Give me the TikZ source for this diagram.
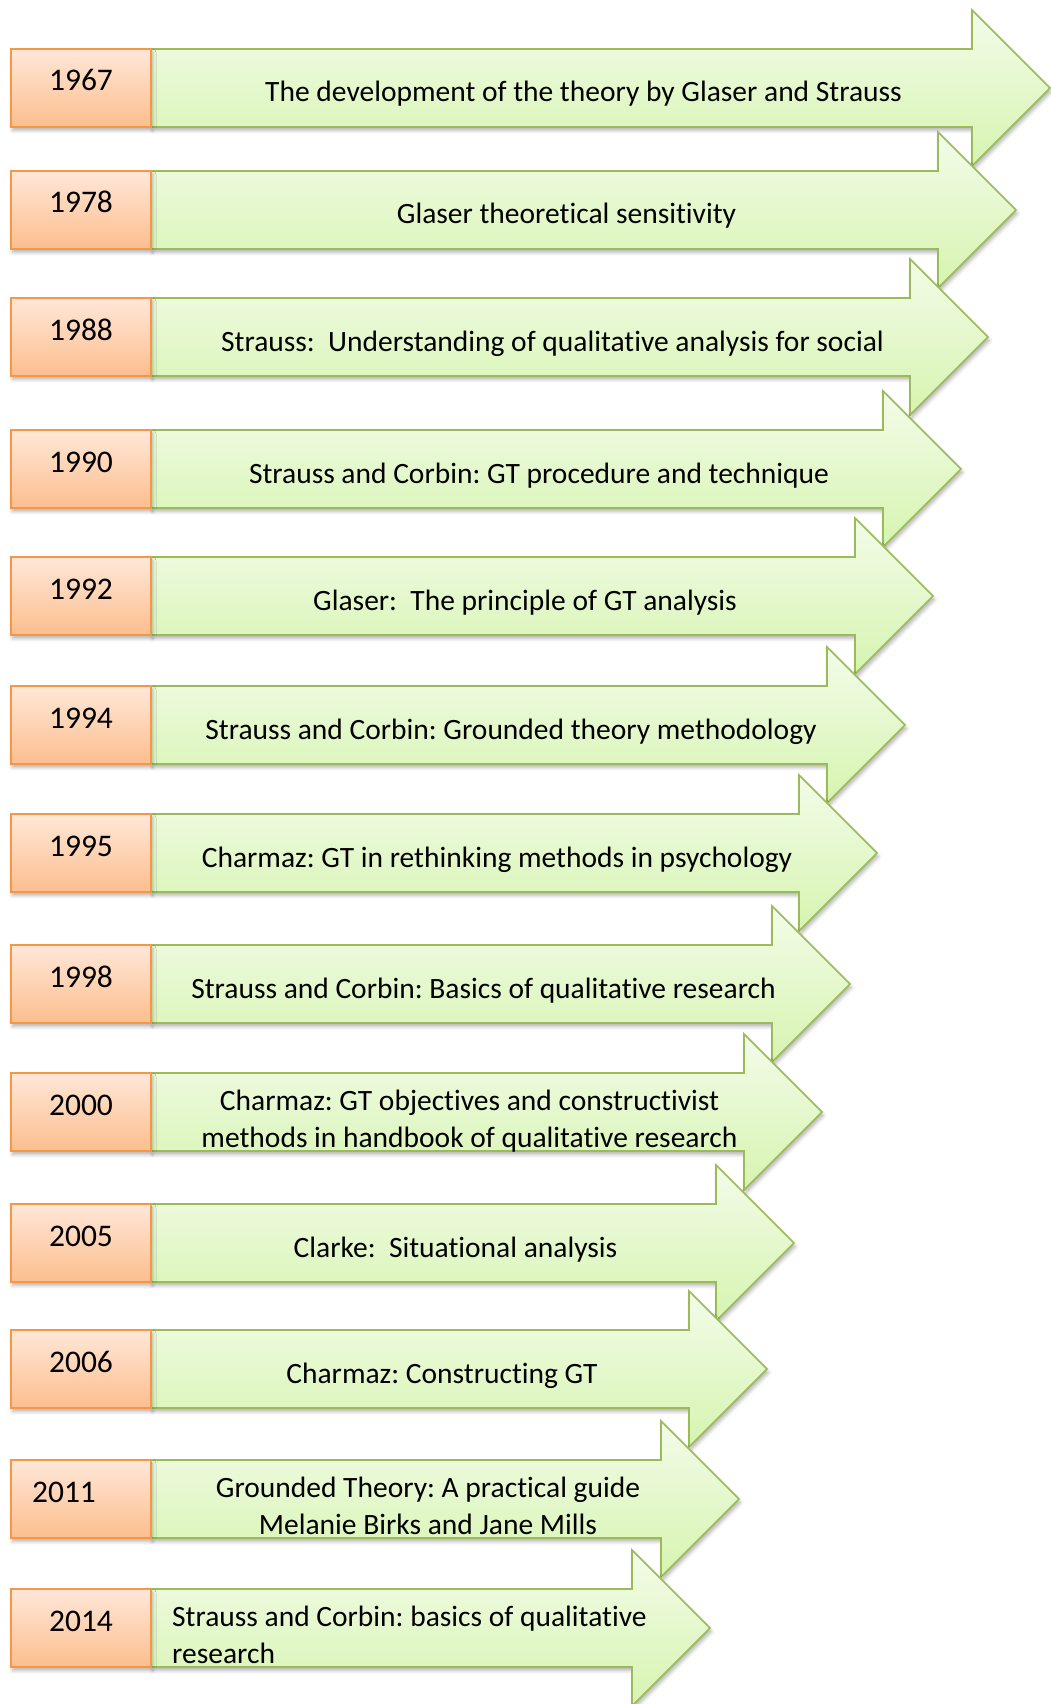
\documentclass[tikz,border=0pt]{standalone}
\usepackage{fontspec}
\setmainfont{Carlito}[Ligatures=CommonOff]
\frenchspacing
\usetikzlibrary{shadows.blur}

\definecolor{yearline}{RGB}{247,150,70}
\definecolor{yeartop}{RGB}{255,231,216}
\definecolor{yearbot}{RGB}{252,190,142}
\definecolor{arrline}{RGB}{155,187,89}
\definecolor{arrtop}{RGB}{243,252,233}
\definecolor{arrbot}{RGB}{214,244,176}

\tikzset{
  softshadow/.style={blur shadow={shadow xshift=1.5pt, shadow yshift=-3.5pt,
      shadow blur radius=3.5pt, shadow blur steps=6, shadow opacity=30}},
  yearbox/.style={draw=yearline, line width=1.8pt, top color=yeartop,
      bottom color=yearbot, softshadow},
  arrowbody/.style={draw=arrline, line width=1.6pt, line join=miter,
      top color=arrtop, bottom color=arrbot, softshadow},
  yeartext/.style={font=\fontsize{31.5}{38}\selectfont, text=black,
      inner sep=0pt, anchor=base},
  descfont/.style={font=\fontsize{29.5}{36.5}\selectfont, text=black, inner sep=0pt},
  desctext/.style={descfont, anchor=base, align=center},
  desctextleft/.style={descfont, anchor=base west, align=left},
}

\begin{document}
\begin{tikzpicture}[x=1pt, y=-1pt]
  \useasboundingbox (0,0) rectangle (1051,1704);

  % one row: top edge, arrow tip, year centre x, year, row id,
  % offset of the last text baseline below the top edge, text
  \foreach \t/\tip/\yx/\yr/\n/\bo/\txt in {
      49/1050/81/1967/a/53/{The development of the theory by Glaser and Strauss},
      171/1016/81/1978/b/53/{Glaser theoretical sensitivity},
      298/988/81/1988/c/53/{Strauss:\ \ Understanding of qualitative analysis for social},
      430/961/81/1990/d/53/{Strauss and Corbin: GT procedure and technique},
      557/933/81/1992/e/53/{Glaser:\ \ The principle of GT analysis},
      686/905/81/1994/f/53/{Strauss and Corbin: Grounded theory methodology},
      814/877/81/1995/g/53/{Charmaz: GT in rethinking methods in psychology},
      945/850/81/1998/h/53/{Strauss and Corbin: Basics of qualitative research},
      1073/822/81/2000/i/74/{Charmaz: GT objectives and constructivist\\methods in handbook of qualitative research},
      1204/794/81/2005/j/53/{Clarke:\ \ Situational analysis},
      1330/767/81/2006/k/53/{Charmaz: Constructing GT},
      1460/739/64/2011/l/74/{Grounded Theory: A practical guide\\Melanie Birks and Jane Mills}}
  {
    \pgfmathsetmacro{\c}{\t+39}
    \pgfmathsetmacro{\b}{\t+78}
    \pgfmathsetmacro{\bk}{\tip-78}
    \pgfmathsetmacro{\mx}{(151+\tip)/2-17}
    \draw[arrowbody] (151,\t) -- (\bk,\t) -- (\bk,\c-78) -- (\tip,\c)
        -- (\bk,\c+78) -- (\bk,\b) -- (151,\b) -- cycle;
    \draw[yearbox] (11,\t) rectangle (151,\b);
    \node[yeartext] (y\n) at (\yx,\t+42) {\yr};
    \node[desctext] (d\n) at (\mx,\t+\bo) {\txt};
  }

  % last row, text set flush left
  \draw[arrowbody] (151,1589) -- (632,1589) -- (632,1550) -- (710,1628)
      -- (632,1706) -- (632,1667) -- (151,1667) -- cycle;
  \draw[yearbox] (11,1589) rectangle (151,1667);
  \node[yeartext] (ym) at (81,1631) {2014};
  \node[desctextleft] (dm) at (172,1663)
      {Strauss and Corbin: basics of qualitative\\research};
\end{tikzpicture}
\end{document}
